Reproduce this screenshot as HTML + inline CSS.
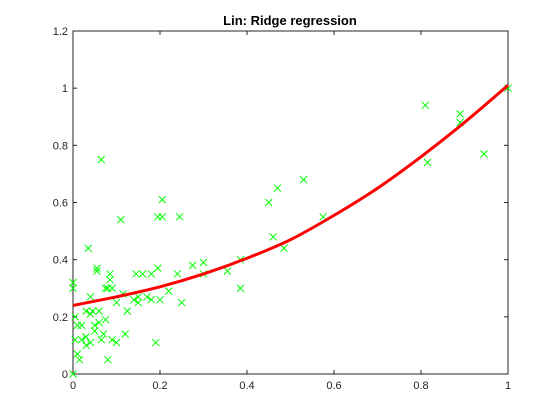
<!DOCTYPE html>
<html><head><meta charset="utf-8"><style>
body{margin:0;background:#fff}
svg{display:block;font-family:"Liberation Sans",sans-serif}
</style></head><body>
<svg id="chart" width="560" height="420">
<rect width="560" height="420" fill="#fff"/>
<text x="290" y="25" text-anchor="middle" font-size="13" font-weight="bold" fill="#000">Lin: Ridge regression</text>
<g id="axes"></g>
<g id="marks"></g>
</svg>
<script>
const xTicks=[0,0.2,0.4,0.6,0.8,1];
const xTickLabels=["0","0.2","0.4","0.6","0.8","1"];
const yTicks=[0,0.2,0.4,0.6,0.8,1,1.2];
const yTickLabels=["0","0.2","0.4","0.6","0.8","1","1.2"];
const pointsX=[0,0,0,0.005,0.005,0.01,0.01,0.015,0.02,0.02,0.03,0.03,0.03,0.035,0.04,0.04,0.045,0.04,0.05,0.05,0.055,0.055,0.06,0.06,0.065,0.065,0.07,0.075,0.075,0.08,0.08,0.085,0.085,0.09,0.09,0.1,0.1,0.11,0.115,0.12,0.125,0.14,0.145,0.15,0.15,0.16,0.17,0.18,0.18,0.19,0.195,0.195,0.2,0.205,0.205,0.22,0.24,0.245,0.25,0.275,0.3,0.3,0.355,0.385,0.385,0.45,0.46,0.47,0.485,0.53,0.575,0.81,0.815,0.89,0.89,0.945,1];
const pointsY=[0,0.3,0.32,0.2,0.12,0.17,0.07,0.05,0.17,0.12,0.13,0.1,0.22,0.44,0.11,0.21,0.22,0.27,0.17,0.15,0.37,0.36,0.18,0.22,0.12,0.75,0.14,0.3,0.19,0.3,0.05,0.33,0.35,0.12,0.3,0.11,0.25,0.54,0.28,0.14,0.22,0.26,0.35,0.25,0.27,0.35,0.27,0.26,0.35,0.11,0.55,0.37,0.26,0.61,0.55,0.29,0.35,0.55,0.25,0.38,0.35,0.39,0.36,0.3,0.4,0.6,0.48,0.65,0.44,0.68,0.55,0.94,0.74,0.91,0.88,0.77,1.0];
const fitX=[0,0.1,0.2,0.3,0.4,0.5,0.6,0.7,0.8,0.9,1];
const fitY=[0.24,0.27,0.305,0.35,0.405,0.47,0.555,0.65,0.76,0.88,1.01];

const L=73,R=508,T=31,B=374;
const sx=v=>L+(R-L)*v;
const sy=v=>B-(B-T)*v/1.2;
const NS="http://www.w3.org/2000/svg";
const axes=document.getElementById('axes'),marks=document.getElementById('marks');
function mk(tag,attrs,parent){const e=document.createElementNS(NS,tag);for(const k in attrs)e.setAttribute(k,attrs[k]);parent.appendChild(e);return e;}

const box=mk('rect',{x:L,y:T,width:R-L,height:B-T,fill:'none',stroke:'#262626','stroke-width':1},axes);


xTicks.forEach((v,i)=>{
  const x=sx(v);
  const t1=mk('line',{x1:x,x2:x,y1:B,y2:B-4,stroke:'#262626'},axes);
  
  
  mk('line',{x1:x,x2:x,y1:T,y2:T+4,stroke:'#262626'},axes);
  const t=mk('text',{x:x,y:B+15,'text-anchor':'middle','font-size':11,fill:'#262626'},axes);
  t.textContent=xTickLabels[i];
  
  
});
yTicks.forEach((v,i)=>{
  const y=sy(v);
  const t1=mk('line',{x1:L,x2:L+4,y1:y,y2:y,stroke:'#262626'},axes);
  
  
  mk('line',{x1:R,x2:R-4,y1:y,y2:y,stroke:'#262626'},axes);
  const t=mk('text',{x:L-5,y:y+4,'text-anchor':'end','font-size':11,fill:'#262626'},axes);
  t.textContent=yTickLabels[i];
  
  
});
pointsX.forEach((v,i)=>{
  const x=sx(v),y=sy(pointsY[i]),s=3.5;
  const p=mk('path',{d:`M${x-s},${y-s}L${x+s},${y+s}M${x-s},${y+s}L${x+s},${y-s}`,stroke:'#00ff00','stroke-width':1,fill:'none'},marks);
  
  
});
// smooth fit line (Catmull-Rom)
const pts=fitX.map((v,i)=>[sx(v),sy(fitY[i])]);
let d=`M${pts[0][0]},${pts[0][1]}`;
for(let i=0;i<pts.length-1;i++){
  const p0=pts[Math.max(0,i-1)],p1=pts[i],p2=pts[i+1],p3=pts[Math.min(pts.length-1,i+2)];
  const c1=[p1[0]+(p2[0]-p0[0])/6,p1[1]+(p2[1]-p0[1])/6];
  const c2=[p2[0]-(p3[0]-p1[0])/6,p2[1]-(p3[1]-p1[1])/6];
  d+=`C${c1[0]},${c1[1]} ${c2[0]},${c2[1]} ${p2[0]},${p2[1]}`;
}
const fl=mk('path',{d:d,stroke:'#ff0000','stroke-width':3,fill:'none'},marks);


</script>
</body></html>
